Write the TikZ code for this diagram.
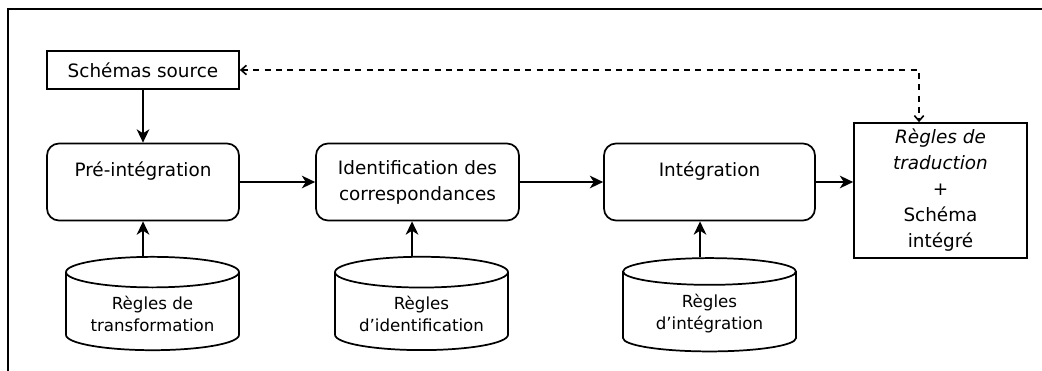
\documentclass[tikz,border=0pt]{standalone}
\usepackage{fontspec}
\setmainfont{DejaVu Sans}
\usetikzlibrary{arrows.meta,shapes.geometric}
\tikzset{
  box/.style={draw, line width=1.3pt, align=center, font=\fontsize{13.8}{19.5}\selectfont},
  proc/.style={box, rounded corners=9pt, minimum width=#1, minimum height=57.75pt},
  rules/.style={draw, line width=1.3pt, cylinder, shape border rotate=90, aspect=0.23,
    minimum width=129.75pt, minimum height=70pt, align=center, font=\fontsize{12.5}{16.5}\selectfont},
  flow/.style={draw, line width=1.3pt, -{Stealth[length=10pt, width=9.5pt, inset=3pt]}},
  link/.style={draw, line width=1.2pt, dash pattern=on 4.5pt off 4pt,
    {Straight Barb[length=4pt, width=7pt]}-{Straight Barb[length=4pt, width=7pt]}}
}
\begin{document}
\begin{tikzpicture}[x=0.75pt, y=-0.75pt]
\useasboundingbox (0,0) rectangle (1042,371);
\draw[line width=1.5pt] (1042,9) -- (8,9) -- (8,371);
\node[box, minimum width=144pt, minimum height=28.5pt] (src) at (143,70) {Schémas source};
\node[proc=144pt] (pre) at (143,182) {Pré-intégration\\ \mbox{}};
\node[proc=152.25pt] (ident) at (417.5,182) {Identification des\\correspondances};
\node[proc=158.25pt] (integ) at (709.5,182) {Intégration\\ \mbox{}};
\node[box, minimum width=129.75pt, minimum height=101.25pt] (trad) at (940.5,190.5)
  {\textit{Règles de}\\\textit{traduction}\\+\\Schéma\\intégré};
\node[rules] (rt) at (152.5,314) {Règles de\\transformation};
\node[rules] (ri) at (421.5,314) {Règles\\d’identification};
\node[rules] (rg) at (709.5,314) {Règles\\d’intégration};
\path[flow] (src) -- (pre);
\path[flow] (pre) -- (ident);
\path[flow] (ident) -- (integ);
\path[flow] (integ.east) -- (integ.east -| trad.west);
\path[flow] ([xshift=-7.1pt]rt.north) -- ([xshift=-7.1pt]rt.north |- pre.south);
\path[flow] ([xshift=-7.1pt]ri.north) -- ([xshift=-7.1pt]ri.north |- ident.south);
\path[flow] ([xshift=-7.1pt]rg.north) -- ([xshift=-7.1pt]rg.north |- integ.south);
\path[link] (src.east) -| ([xshift=-16.1pt]trad.north);
\end{tikzpicture}
\end{document}
